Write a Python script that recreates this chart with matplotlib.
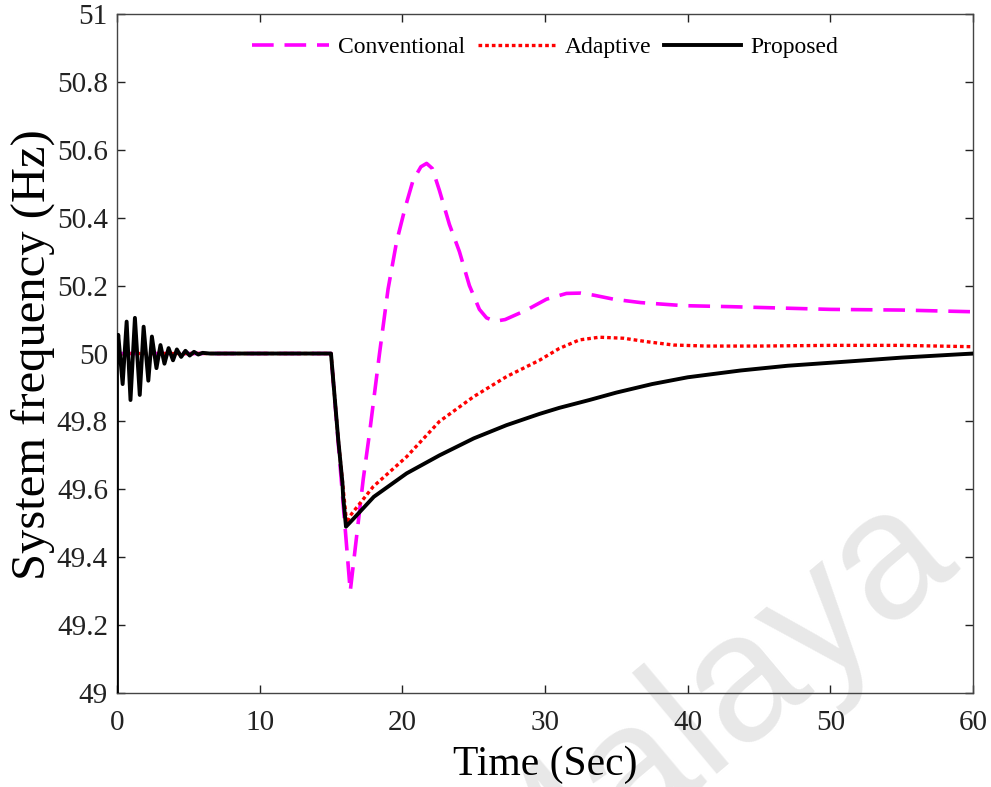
import numpy as np
import matplotlib
matplotlib.use("Agg")
from matplotlib import pyplot as plt

# Proposed (black, solid)
t_prop = [0.0, 0.0, 0.09, 0.4, 0.68, 0.95, 1.26, 1.6, 1.87, 2.2, 2.45, 2.77, 3.05, 3.33,
          3.62, 3.93, 4.2, 4.5, 4.8, 5.1, 5.4, 5.7, 6.0, 6.5, 15.0, 15.5, 15.8, 15.85,
          16.05, 16.5, 18.0, 20.3, 22.6, 25.0, 27.3, 29.6, 31.0, 33.1, 35.0, 37.5, 40.0,
          43.7, 47.0, 51.4, 55.0, 60.0]
f_prop = [49.0, 49.98, 50.055, 49.91, 50.094, 49.863, 50.105, 49.878, 50.079, 49.92, 50.05,
          49.957, 50.025, 49.97, 50.016, 49.98, 50.012, 49.99, 50.008, 49.994, 50.005,
          49.997, 50.002, 50.0, 50.0, 49.75, 49.62, 49.58, 49.49, 49.51, 49.578, 49.647,
          49.70, 49.75, 49.789, 49.822, 49.84, 49.863, 49.885, 49.91, 49.93, 49.95,
          49.964, 49.977, 49.988, 50.0]

# Adaptive (red, dotted)
t_adap = [0.0, 0.1, 0.3, 15.0, 15.5, 16.1, 16.3, 17.96, 20.3, 22.6, 25.0, 27.3, 29.6, 31.0,
          32.4, 33.8, 35.5, 37.1, 39.0, 41.3, 45.0, 50.0, 55.0, 60.0]
f_adap = [50.0, 49.975, 50.0, 50.0, 49.75, 49.50, 49.52, 49.608, 49.696, 49.80, 49.873,
          49.932, 49.98, 50.015, 50.04, 50.048, 50.045, 50.035, 50.025, 50.022, 50.022,
          50.024, 50.024, 50.02]

# Conventional (magenta, dashed)
t_conv = [0.0, 15.0, 16.35, 17.26, 17.73, 18.4, 19.0, 19.6, 20.2, 20.75, 21.3, 21.7, 22.1,
          22.6, 23.3, 24.0, 24.7, 25.4, 25.9, 26.5, 27.2, 28.7, 30.1, 31.5, 32.5, 33.4,
          34.8, 36.7, 39.7, 43.0, 50.0, 55.0, 60.0]
f_conv = [50.0, 50.0, 49.30, 49.63, 49.775, 50.0, 50.19, 50.33, 50.43, 50.51, 50.55, 50.56,
          50.545, 50.48, 50.38, 50.30, 50.20, 50.13, 50.105, 50.095, 50.10, 50.128, 50.16,
          50.177, 50.178, 50.172, 50.16, 50.15, 50.141, 50.138, 50.13, 50.128, 50.123]

x_ticks = [0, 10, 20, 30, 40, 50, 60]
y_ticks = [49, 49.2, 49.4, 49.6, 49.8, 50, 50.2, 50.4, 50.6, 50.8, 51]
y_labels = ['49', '49.2', '49.4', '49.6', '49.8', '50', '50.2', '50.4', '50.6', '50.8', '51']

plt.rcParams['font.family'] = ['Liberation Serif', 'DejaVu Serif']

fig = plt.figure(figsize=(9.91, 7.87), dpi=100)
ax = fig.add_axes([0.118, 0.1194, 0.864, 0.8628])
ax.patch.set_alpha(0)

# watermark behind the axes
fig.text(0.712, 0.098, 'Malaya', family='Liberation Sans', fontsize=130, color='#e8e8e8',
         rotation=40, ha='center', va='center', zorder=-1)

ax.plot(t_conv, f_conv, color='#ff00ff', lw=2.6, dashes=(6, 3), label='Conventional', zorder=3)
ax.plot(t_adap, f_adap, color='#ff0000', lw=2.4, dashes=(1.1, 0.9), label='Adaptive', zorder=4)
ax.plot(t_prop, f_prop, color='black', lw=2.8, label='Proposed', zorder=5)

ax.set_xlim(0, 60)
ax.set_ylim(49, 51)
ax.set_xticks(x_ticks)
ax.set_yticks(y_ticks)
ax.set_yticklabels(y_labels)
ax.tick_params(direction='in', length=6, width=1, top=True, right=True,
               labelsize=21, colors='#222222')
ax.tick_params(axis='y', pad=6.5)
ax.tick_params(axis='x', pad=12)
for s in ax.spines.values():
    s.set_color('#444444')
    s.set_linewidth(1)

ax.set_xlabel('Time (Sec)', fontsize=30)
ax.set_ylabel('System frequency (Hz)', fontsize=35)
ax.xaxis.set_label_coords(0.5, -0.078)
ax.yaxis.set_label_coords(-0.072, 0.498)

ax.legend(loc='upper center', bbox_to_anchor=(0.5, 1.0), ncol=3, frameon=False,
          fontsize=17, handlelength=3.26, handletextpad=0.38, columnspacing=0.55,
          borderaxespad=0.55)

fig.savefig('out.png', dpi=100)
